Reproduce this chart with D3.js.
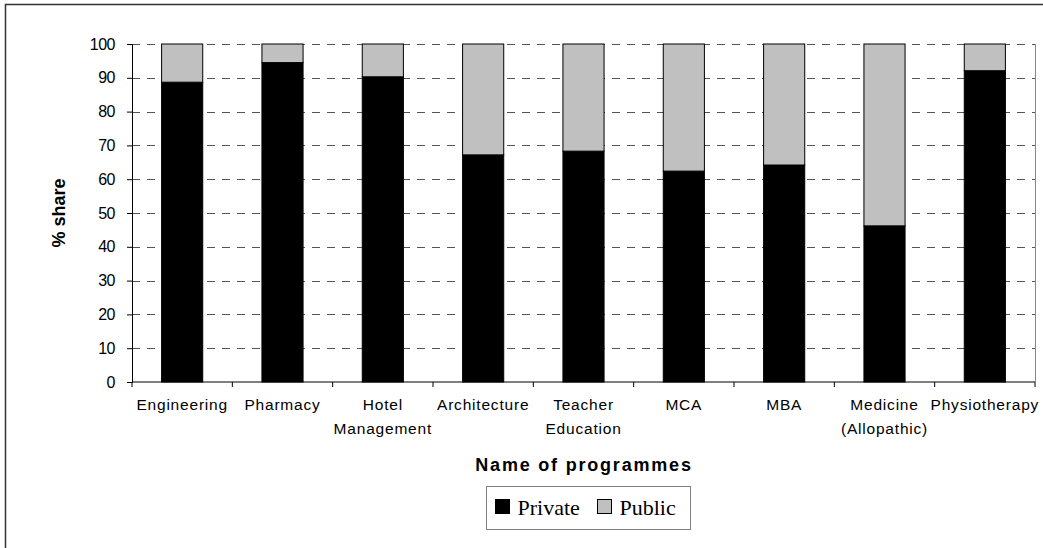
<!DOCTYPE html>
<meta charset="utf-8">
<head>
    <title>Share of private and public institutions by programme</title>
</head>
<style>
    body { margin: 0; background: #fff; }
    .grid line { stroke: #555; stroke-dasharray: 8,7; shape-rendering: crispEdges; }
    .grid path { stroke-width: 0; }
    .tick text { font-family: "Liberation Sans", Arial, sans-serif; }
</style>
<script src="https://d3js.org/d3.v7.min.js"></script>
<div id="chart"></div>
<script>
    // data
    var programmes = ["Engineering", "Pharmacy", "Hotel\nManagement", "Architecture", "Teacher\nEducation",
                      "MCA", "MBA", "Medicine\n(Allopathic)", "Physiotherapy"];
    var privateShare = [88.7, 94.5, 90.3, 67.2, 68.3, 62.4, 64.2, 46.2, 92.1];
    var publicShare = privateShare.map(function (v) { return 100 - v; });
    var yTicks = [0, 10, 20, 30, 40, 50, 60, 70, 80, 90, 100];
    var seriesNames = ["Private", "Public"];
    var seriesColors = ["#000000", "#c0c0c0"];

    var W = 1043, H = 548;
    var margin = { top: 44, right: 8, bottom: 166, left: 132 },
        width = 1035 - margin.left,
        height = 382 - margin.top;

    var svg = d3.select("#chart").append("svg")
        .attr("width", W).attr("height", H);

    // chart border (only top and left visible, the rest is cropped)
    svg.append("rect")
        .attr("x", 5.5).attr("y", 4.5)
        .attr("width", W + 10).attr("height", H + 10)
        .attr("fill", "none").attr("stroke", "#333").attr("stroke-width", 1.5);

    var g = svg.append("g").attr("transform", "translate(" + margin.left + "," + margin.top + ")");

    var x = d3.scaleBand().domain(programmes).range([0, width]).padding(0);
    var y = d3.scaleLinear().domain([0, 100]).range([height, 0]);

    // dashed gridlines
    g.append("g")
        .attr("class", "grid")
        .call(d3.axisLeft(y).tickValues(yTicks.slice(1)).tickSize(-width).tickFormat(""));

    // right border of plot area
    g.append("line")
        .attr("x1", width + 0.5).attr("x2", width + 0.5)
        .attr("y1", 0).attr("y2", height)
        .attr("stroke", "#888");

    // stacked bars
    var stack = programmes.map(function (p, i) {
        return { name: p, priv: privateShare[i], pub: publicShare[i] };
    });
    var barW = x.bandwidth() * 0.41;
    var bars = g.append("g").selectAll("g").data(stack).enter().append("g")
        .attr("transform", function (d) { return "translate(" + (x(d.name) + (x.bandwidth() - barW) / 2) + ",0)"; });
    bars.append("rect")
        .attr("y", function (d) { return y(d.priv); })
        .attr("width", barW)
        .attr("height", function (d) { return y(0) - y(d.priv); })
        .attr("fill", seriesColors[0]).attr("stroke", "#000").attr("stroke-width", 1);
    bars.append("rect")
        .attr("y", function (d) { return y(100); })
        .attr("width", barW)
        .attr("height", function (d) { return y(d.priv) - y(100); })
        .attr("fill", seriesColors[1]).attr("stroke", "#000").attr("stroke-width", 1);

    // y axis
    var yAxis = g.append("g")
        .call(d3.axisLeft(y).tickValues(yTicks).tickSize(5).tickPadding(12));
    yAxis.select(".domain").attr("stroke", "#000");
    yAxis.selectAll(".tick text").attr("font-size", "16px").attr("fill", "#000")
        .attr("letter-spacing", "-0.5px");

    // x axis: ticks on the band boundaries, labels in the middle
    var xAxis = g.append("g").attr("transform", "translate(0," + height + ")");
    xAxis.append("line").attr("x1", 0).attr("x2", width).attr("stroke", "#000");
    xAxis.selectAll(".bt").data(programmes.concat(["end"])).enter().append("line")
        .attr("x1", function (d, i) { return i < programmes.length ? x(d) : width; })
        .attr("x2", function (d, i) { return i < programmes.length ? x(d) : width; })
        .attr("y1", 0).attr("y2", 5).attr("stroke", "#000");
    var labels = xAxis.selectAll(".lbl").data(programmes).enter().append("text")
        .attr("text-anchor", "middle")
        .attr("font-family", "Liberation Sans, Arial, sans-serif")
        .attr("font-size", "15.5px")
        .attr("letter-spacing", "0.8px")
        .attr("fill", "#000")
        .attr("transform", function (d) { return "translate(" + (x(d) + x.bandwidth() / 2) + ",0)"; });
    labels.selectAll("tspan").data(function (d) { return d.split("\n"); }).enter().append("tspan")
        .attr("x", 0)
        .attr("y", function (d, i) { return 28 + i * 23.5; })
        .text(function (d) { return d; });

    // axis titles
    svg.append("text")
        .attr("x", 584).attr("y", 471)
        .attr("text-anchor", "middle")
        .attr("font-family", "Liberation Sans, Arial, sans-serif")
        .attr("font-weight", "bold").attr("font-size", "18px")
        .attr("letter-spacing", "1.8px")
        .text("Name of programmes");
    svg.append("text")
        .attr("transform", "translate(65,213) rotate(-90)")
        .attr("text-anchor", "middle")
        .attr("font-family", "Liberation Sans, Arial, sans-serif")
        .attr("font-weight", "bold").attr("font-size", "18px")
        .text("% share");

    // legend
    var leg = svg.append("g").attr("transform", "translate(486.5,486.5)");
    leg.append("rect").attr("width", 204).attr("height", 43)
        .attr("fill", "#fff").attr("stroke", "#808080");
    var legX = [9, 111];
    seriesNames.forEach(function (s, i) {
        leg.append("rect")
            .attr("x", legX[i]).attr("y", 13)
            .attr("width", 14).attr("height", 14)
            .attr("fill", seriesColors[i]).attr("stroke", "#000");
        leg.append("text")
            .attr("x", legX[i] + 22).attr("y", 28)
            .attr("font-family", "Liberation Serif, Times New Roman, serif")
            .attr("font-size", "22px")
            .text(s);
    });
</script>
